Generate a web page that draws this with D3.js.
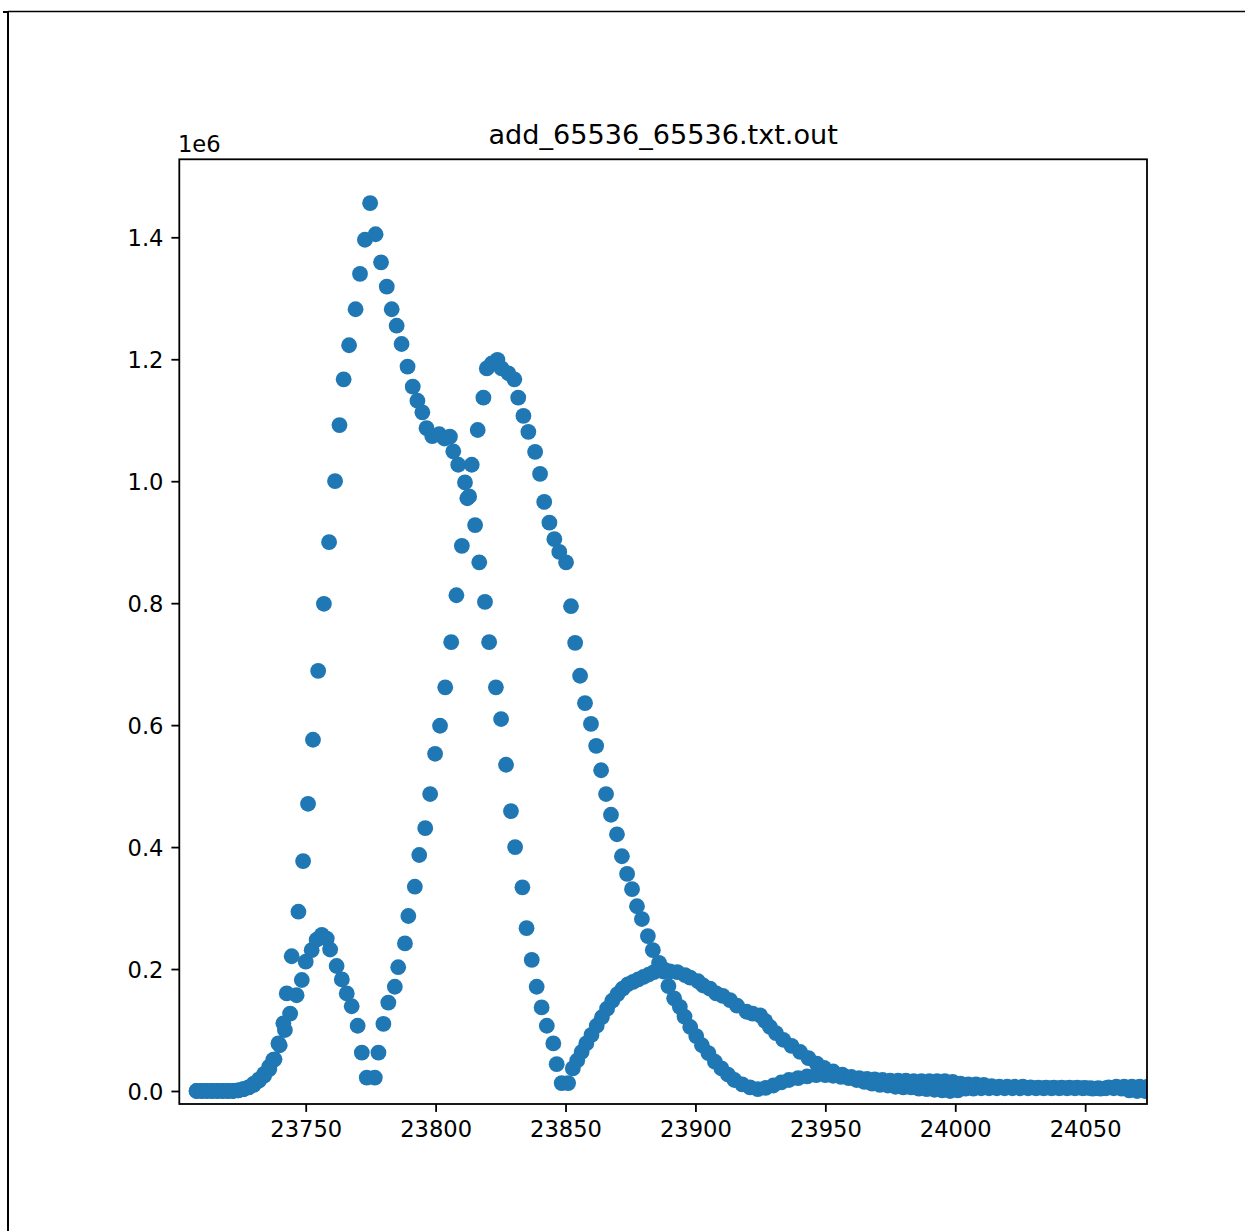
<!DOCTYPE html>
<html>
<head>
<meta charset="utf-8">
<script src="https://cdn.jsdelivr.net/npm/d3@7"></script>
<style>
  html, body { margin: 0; padding: 0; background: #ffffff; }
  svg { display: block; }
  text { font-family: "DejaVu Sans", sans-serif; fill: #000; }
</style>
</head>
<body>
<svg id="chart" width="1245" height="1231"></svg>
<script>
// ---------------- data (y values in units of 1e6) ----------------
const chartTitle = "add_65536_65536.txt.out";
const offsetLabel = "1e6";

const xTicks = [23750, 23800, 23850, 23900, 23950, 24000, 24050];
const yTicks = [0.0, 0.2, 0.4, 0.6, 0.8, 1.0, 1.2, 1.4];

// series A : small first peak, then the 1.2 peak, then trough + tail
const seriesAx = [
  23708, 23710, 23712, 23714, 23716, 23718, 23720, 23722, 23724, 23726, 23728, 23730,
  23732, 23734, 23736, 23738, 23740, 23742, 23744, 23746.5, 23748.5, 23750, 23752.3,
  23754.2, 23756.2, 23758.1, 23759.4, 23761.9, 23763.9, 23765.8, 23767.7, 23770,
  23771.6, 23773.5, 23776.6, 23778, 23779.9, 23781.8, 23784.3, 23785.6, 23788.2,
  23789.5, 23792, 23793.7, 23796, 23797.9, 23799.8, 23801.7, 23803.7, 23806, 23808,
  23810.1, 23812.2, 23813.9, 23816.2, 23818.4, 23819.7, 23821.6, 23823.8, 23825.4,
  23828, 23830.3, 23831.8, 23833.8, 23835.7, 23838.3, 23840.2, 23841.8, 23843.8,
  23845.7, 23847.6, 23850.2, 23852.1, 23853.7, 23855.6, 23857.5, 23859.8, 23861.8,
  23863.7, 23865.6, 23867.5, 23869.8, 23871.7, 23873.7, 23875.6, 23877.5, 23879.4,
  23881.7, 23883.6, 23886, 23887.7, 23889.6, 23891.8, 23894, 23895.8, 23898, 23900.3,
  23902.5, 23905, 23907.5, 23910, 23912.5, 23915, 23918, 23921, 23924, 23927, 23930,
  23933, 23936, 23939.5, 23943, 23946.5, 23950, 23953, 23956, 23959, 23962, 23965,
  23968, 23971, 23974, 23977, 23980, 23983, 23986, 23989, 23992, 23995, 23998, 24001,
  24004, 24007, 24010, 24013, 24016, 24019, 24022, 24025, 24028, 24031, 24034, 24037,
  24040, 24043, 24046, 24049, 24052, 24055, 24058, 24061, 24064, 24067, 24070, 24073,
  24076
];
const seriesAy = [
  0.000, 0.000, 0.000, 0.000, 0.000, 0.000, 0.000, 0.000, 0.001, 0.003, 0.006, 0.010,
  0.017, 0.025, 0.036, 0.052, 0.075, 0.100, 0.127, 0.157, 0.182, 0.212, 0.231,
  0.248, 0.256, 0.250, 0.232, 0.205, 0.183, 0.160, 0.139, 0.107,
  0.063, 0.022, 0.022, 0.063, 0.110, 0.145, 0.171, 0.203, 0.242,
  0.287, 0.335, 0.387, 0.431, 0.487, 0.553, 0.599, 0.662, 0.736, 0.813,
  0.894, 0.972, 1.027, 1.084, 1.137, 1.185, 1.193, 1.199, 1.185,
  1.177, 1.167, 1.137, 1.107, 1.081, 1.048, 1.012, 0.966, 0.932,
  0.905, 0.884, 0.867, 0.795, 0.735, 0.681, 0.636, 0.602, 0.566,
  0.526, 0.487, 0.453, 0.421, 0.385, 0.356, 0.331, 0.303, 0.282,
  0.254, 0.231, 0.210, 0.196, 0.172, 0.152, 0.138, 0.122, 0.105, 0.090,
  0.075, 0.062, 0.048, 0.037, 0.027, 0.018, 0.011, 0.006, 0.003, 0.005, 0.009,
  0.014, 0.018, 0.021, 0.024, 0.026, 0.026, 0.025, 0.023, 0.021, 0.018, 0.015,
  0.012, 0.010, 0.009, 0.007, 0.006, 0.006, 0.004, 0.003, 0.002, 0.001, 0.000, 0.001,
  0.004, 0.004, 0.0045, 0.0045, 0.0045, 0.0045, 0.0045, 0.0045, 0.0045, 0.0045, 0.0045, 0.0045,
  0.0045, 0.0045, 0.0045, 0.0045, 0.0045, 0.0045, 0.0045, 0.0045, 0.004, 0.001, 0.000, 0.000,
  0.000
];

// series B : the tall 1.46 peak, shoulder, trough, 0.2 hump + tail
const seriesBx = [
  23708, 23710, 23712, 23714, 23716, 23718, 23720, 23722, 23724, 23726, 23728, 23730,
  23732, 23734, 23736, 23737.5, 23739.5, 23741.4, 23742.7, 23744.6, 23747.2, 23749,
  23750.9, 23752.8, 23754.8, 23757, 23759, 23761.3, 23763, 23764.6, 23766.7, 23769.2,
  23770.9, 23772.8, 23774.8, 23776.9, 23779, 23781.2, 23783.1, 23785, 23786.9, 23789.2,
  23791.2, 23793, 23794.9, 23796.5, 23798.7, 23801.4, 23803.4, 23805.5, 23806.8, 23808.7,
  23811.3, 23812.9, 23815.2, 23816.8, 23819, 23820.6, 23823.2, 23825.2, 23827.1, 23829,
  23830.6, 23833.4, 23835, 23837, 23838.9, 23840.8, 23842.8, 23845.3, 23846.6, 23848.5,
  23851, 23852.8, 23854.5, 23856.2, 23858, 23860, 23862, 23864, 23866, 23868, 23870,
  23872, 23874, 23876, 23878, 23880, 23882, 23884, 23886, 23888, 23890.2, 23893, 23896,
  23898, 23901, 23903, 23905.6, 23908, 23910.5, 23913.3, 23916, 23919.7, 23922, 23924.9,
  23926.8, 23928.7, 23931, 23933.8, 23937, 23940.3, 23943.5, 23946.7, 23949.5, 23953,
  23956.5, 23960, 23963, 23966, 23969, 23972, 23975, 23978, 23981, 23984, 23987, 23990,
  23993, 23996, 23999, 24002, 24005, 24008, 24011, 24014, 24017, 24020, 24023, 24026,
  24029, 24032, 24035, 24038, 24041, 24044, 24047, 24050, 24053, 24056, 24059, 24062,
  24065, 24068, 24071, 24074, 24077
];
const seriesBy = [
  0.000, 0.000, 0.000, 0.000, 0.000, 0.000, 0.000, 0.000, 0.001, 0.003, 0.006, 0.012,
  0.019, 0.028, 0.040, 0.051, 0.078, 0.111, 0.160, 0.221, 0.294, 0.377,
  0.471, 0.576, 0.689, 0.799, 0.900, 1.000, 1.092, 1.167, 1.223, 1.282,
  1.340, 1.396, 1.456, 1.405, 1.359, 1.319, 1.282, 1.255, 1.225, 1.188,
  1.155, 1.132, 1.113, 1.087, 1.074, 1.077, 1.070, 1.073, 1.049, 1.027,
  0.998, 0.975, 0.928, 0.867, 0.802, 0.736, 0.662, 0.610, 0.535, 0.459,
  0.400, 0.334, 0.267, 0.215, 0.171, 0.137, 0.107, 0.078, 0.044, 0.013,
  0.013, 0.037, 0.050, 0.064, 0.078, 0.092, 0.107, 0.121, 0.135, 0.148, 0.159,
  0.168, 0.175, 0.179, 0.183, 0.187, 0.191, 0.195, 0.198, 0.199, 0.196, 0.195, 0.190,
  0.186, 0.180, 0.173, 0.168, 0.160, 0.156, 0.149, 0.140, 0.130, 0.127, 0.124,
  0.115, 0.105, 0.095, 0.084, 0.074, 0.064, 0.054, 0.045, 0.038, 0.032,
  0.027, 0.023, 0.021, 0.020, 0.019, 0.018, 0.017, 0.017, 0.017, 0.016, 0.016, 0.016,
  0.016, 0.016, 0.015, 0.012, 0.011, 0.011, 0.010, 0.008, 0.007, 0.007, 0.007, 0.007,
  0.006, 0.0055, 0.0055, 0.0055, 0.0055, 0.0055, 0.0055, 0.005, 0.004, 0.004, 0.006, 0.007,
  0.007, 0.007, 0.007, 0.007, 0.007
];

// ---------------- drawing ----------------
const svg = d3.select("#chart");
const W = 1245, H = 1231;
const plot = { left: 179.3, right: 1147, top: 159.3, bottom: 1104 };
const fontPx = 22.6, titlePx = 27.1, tickLen = 7.9, tickPad = 7.9;
const markerColor = "#1f77b4";

svg.append("rect").attr("width", W).attr("height", H).attr("fill", "#fff");

// outer page border (top and left edges)
svg.append("line").attr("x1", 8).attr("x2", W).attr("y1", 11.5).attr("y2", 11.5)
  .attr("stroke", "#000").attr("stroke-width", 1.5);
svg.append("line").attr("x1", 8).attr("x2", 8).attr("y1", 11).attr("y2", H)
  .attr("stroke", "#000").attr("stroke-width", 2);
svg.append("line").attr("x1", 3).attr("x2", 9).attr("y1", 12).attr("y2", 12)
  .attr("stroke", "#000").attr("stroke-width", 2);

const x = d3.scaleLinear().domain([23701.35, 24073.8]).range([plot.left, plot.right]);
const y = d3.scaleLinear().domain([-0.02132, 1.5279]).range([plot.bottom, plot.top]);

svg.append("clipPath").attr("id", "clip").append("rect")
  .attr("x", plot.left).attr("y", plot.top)
  .attr("width", plot.right - plot.left).attr("height", plot.bottom - plot.top);

const pointsA = seriesAx.map((v, i) => ({ x: v, y: seriesAy[i] }));
const pointsB = seriesBx.map((v, i) => ({ x: v, y: seriesBy[i] }));
const allPoints = pointsA.concat(pointsB);

svg.append("g").attr("clip-path", "url(#clip)")
  .selectAll("circle").data(allPoints).join("circle")
  .attr("cx", d => x(d.x)).attr("cy", d => y(d.y))
  .attr("r", 7.9).attr("fill", markerColor);

// axes
const xAxis = d3.axisBottom(x).tickValues(xTicks).tickFormat(d3.format("d"))
  .tickSize(tickLen).tickPadding(tickPad);
const yAxis = d3.axisLeft(y).tickValues(yTicks).tickFormat(d3.format(".1f"))
  .tickSize(tickLen).tickPadding(tickPad);

const gx = svg.append("g").attr("transform", `translate(0,${plot.bottom})`).call(xAxis);
const gy = svg.append("g").attr("transform", `translate(${plot.left},0)`).call(yAxis);
[gx, gy].forEach(g => {
  g.select(".domain").remove();
  g.selectAll(".tick line").attr("stroke", "#000").attr("stroke-width", 1.8);
  g.selectAll(".tick text").attr("font-family", "DejaVu Sans").attr("font-size", fontPx)
    .attr("fill", "#000");
});
gx.selectAll(".tick text").attr("dy", null).attr("y", tickLen + tickPad)
  .attr("dominant-baseline", "hanging");
gy.selectAll(".tick text").attr("dy", "0.36em");

// frame
svg.append("rect").attr("x", plot.left).attr("y", plot.top)
  .attr("width", plot.right - plot.left).attr("height", plot.bottom - plot.top)
  .attr("fill", "none").attr("stroke", "#000").attr("stroke-width", 1.8);

// title and offset text
svg.append("text").attr("x", (plot.left + plot.right) / 2).attr("y", 144)
  .attr("text-anchor", "middle").attr("font-size", titlePx).text(chartTitle);
svg.append("text").attr("x", 178).attr("y", 152)
  .attr("font-size", fontPx).text(offsetLabel);
</script>
</body>
</html>
